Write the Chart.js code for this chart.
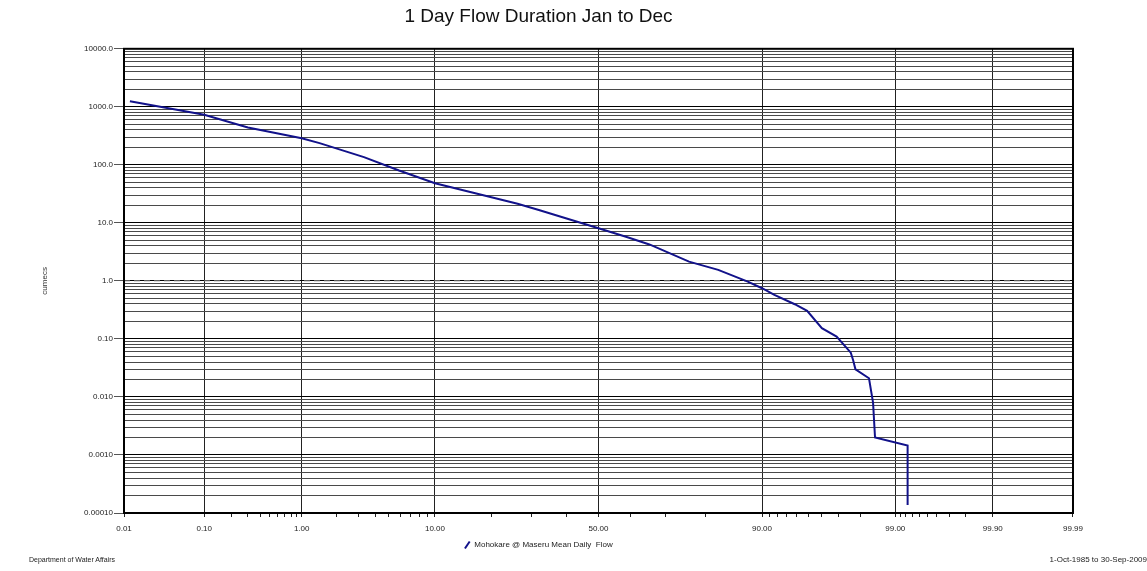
<!DOCTYPE html>
<html>
<head>
<meta charset="utf-8">
<title>1 Day Flow Duration Jan to Dec</title>
<script src="https://cdn.jsdelivr.net/npm/chart.js@4.4.1/dist/chart.umd.min.js"></script>
<style>
  body { margin: 0; background: #fff; }
  #wrap { position: relative; width: 1147px; height: 571px; overflow: hidden; font-family: "Liberation Sans", Arial, sans-serif; }
  #box { position: absolute; left: 0; top: 0; width: 1090px; height: 571px; }
  .foot { position: absolute; top: 556px; font-size: 7px; color: #222; white-space: nowrap; }
</style>
</head>
<body>
<div id="wrap">
  <div id="box"><canvas id="chart"></canvas></div>
  <div class="foot" style="left:29px">Department of Water Affairs</div>
  <div class="foot" style="right:0; font-size:8px; top:555px">1-Oct-1985 to 30-Sep-2009</div>
</div>
<script>
// 超過確率 (%) と流量 (cumecs).
const exceedance = [0.012, 0.10, 0.30, 1.0, 1.44, 3.3, 5.9, 10.0, 11.0, 26.3, 32.0, 50.0, 59.0, 65.5,
  76.1, 82.6, 87.9, 90.0, 91.6, 93.8, 94.9, 96.0, 96.9, 97.6, 97.7, 97.8, 98.3, 98.43, 98.49, 99.23, 99.23];
const flow = [1250, 728, 440, 288, 237, 136, 80, 48.3, 45, 21.4, 16.7, 8.1, 5.67, 4.25,
  2.15, 1.55, 0.97, 0.748, 0.574, 0.396, 0.304, 0.153, 0.110, 0.058, 0.0435, 0.030, 0.021, 0.0080, 0.0020, 0.00145, 0.000137];

// 1.0 の点線.
const refLevel = 1.0;

// X 軸の目盛.
const xMajorTicks = [0.01, 0.1, 1, 10, 50, 90, 99, 99.9, 99.99];
const xTickLabels = ['0.01', '0.10', '1.00', '10.00', '50.00', '90.00', '99.00', '99.90', '99.99'];
const xMinorTicks = [0.2, 0.3, 0.4, 0.5, 0.6, 0.7, 0.8, 0.9, 2, 3, 4, 5, 6, 7, 8, 9, 20, 30, 40, 60, 70, 80,
  91, 92, 93, 94, 95, 96, 97, 98, 99.1, 99.2, 99.3, 99.4, 99.5, 99.6, 99.7, 99.8];

// Y 軸の目盛.
const yDecades = [0.0001, 0.001, 0.01, 0.1, 1, 10, 100, 1000, 10000];
const yTickLabels = ['0.00010', '0.0010', '0.010', '0.10', '1.0', '10.0', '100.0', '1000.0', '10000.0'];
const yMinorSteps = [2, 3, 4, 5, 6, 7, 8, 9];

const FONT = '"Liberation Sans", Arial, sans-serif';

// 正規分布の逆関数 (Acklam).
function probit(p) {
  const a = [-3.969683028665376e+01, 2.209460984245205e+02, -2.759285104469687e+02, 1.383577518672690e+02, -3.066479806614716e+01, 2.506628277459239e+00];
  const b = [-5.447609879822406e+01, 1.615858368580409e+02, -1.556989798598866e+02, 6.680131188771972e+01, -1.328068155288572e+01];
  const c = [-7.784894002430293e-03, -3.223964580411365e-01, -2.400758277161838e+00, -2.549671348283350e+00, 4.374664141464968e+00, 2.938163982698783e+00];
  const d = [7.784695709041462e-03, 3.224671290700398e-01, 2.445134137142996e+00, 3.754408661907416e+00];
  const pl = 0.02425;
  let q, r;
  if (p < pl) {
    q = Math.sqrt(-2 * Math.log(p));
    return (((((c[0]*q+c[1])*q+c[2])*q+c[3])*q+c[4])*q+c[5]) / ((((d[0]*q+d[1])*q+d[2])*q+d[3])*q+1);
  }
  if (p > 1 - pl) {
    q = Math.sqrt(-2 * Math.log(1 - p));
    return -(((((c[0]*q+c[1])*q+c[2])*q+c[3])*q+c[4])*q+c[5]) / ((((d[0]*q+d[1])*q+d[2])*q+d[3])*q+1);
  }
  q = p - 0.5; r = q * q;
  return (((((a[0]*r+a[1])*r+a[2])*r+a[3])*r+a[4])*r+a[5])*q / (((((b[0]*r+b[1])*r+b[2])*r+b[3])*r+b[4])*r+1);
}

function normCdf(z) {
  const t = 1 / (1 + 0.3275911 * Math.abs(z) / Math.SQRT2);
  const y = 1 - (((((1.061405429*t - 1.453152027)*t) + 1.421413741)*t - 0.284496736)*t + 0.254829592)*t * Math.exp(-z*z/2);
  return z >= 0 ? (1 + y) / 2 : (1 - y) / 2;
}

// 確率目盛のスケール.
class ProbabilityScale extends Chart.Scale {
  determineDataLimits() {
    this.min = this.options.min;
    this.max = this.options.max;
  }
  buildTicks() {
    return xMajorTicks.concat(xMinorTicks).sort((a, b) => a - b).map(v => ({ value: v }));
  }
  configure() {
    super.configure();
    this._zmin = probit(this.min / 100);
    this._zmax = probit(this.max / 100);
  }
  getLabelForValue(value) {
    return String(value);
  }
  getPixelForValue(value) {
    return this.getPixelForDecimal((probit(value / 100) - this._zmin) / (this._zmax - this._zmin));
  }
  getPixelForTick(index) {
    return this.getPixelForValue(this.ticks[index].value);
  }
  getValueForPixel(pixel) {
    const z = this._zmin + this.getDecimalForPixel(pixel) * (this._zmax - this._zmin);
    return normCdf(z) * 100;
  }
}
ProbabilityScale.id = 'probability';
ProbabilityScale.defaults = {};
Chart.register(ProbabilityScale);

const isXMajor = v => xMajorTicks.some(m => Math.abs(m - v) < 1e-9);
const isYMajor = v => yDecades.some(m => Math.abs(m - v) < m * 1e-6);

// 枠線.
const framePlugin = {
  id: 'frame',
  afterDraw(chart) {
    const { ctx, chartArea: a } = chart;
    ctx.save();
    ctx.strokeStyle = '#000';
    ctx.lineWidth = 2;
    ctx.strokeRect(a.left, a.top, a.right - a.left, a.bottom - a.top);
    ctx.restore();
  }
};

new Chart(document.getElementById('chart'), {
  type: 'line',
  data: {
    datasets: [
      {
        label: 'Mohokare @ Maseru Mean Daily  Flow',
        data: exceedance.map((p, i) => ({ x: p, y: flow[i] })),
        borderColor: '#12128a',
        borderWidth: 2,
        pointRadius: 0,
        pointStyle: 'line',
        pointRotation: -56,
        tension: 0,
      },
      {
        label: 'ref',
        data: [{ x: 0.01, y: refLevel }, { x: 99.99, y: refLevel }],
        borderColor: '#9a9a9a',
        borderWidth: 1,
        borderDash: [6, 4],
        pointRadius: 0,
      },
    ],
  },
  options: {
    responsive: true,
    maintainAspectRatio: false,
    animation: false,
    events: [],
    layout: { padding: { left: 0, right: 13, top: 0, bottom: 12 } },
    plugins: {
      title: {
        display: true,
        text: '1 Day Flow Duration Jan to Dec',
        color: '#111',
        font: { family: FONT, size: 19, weight: 'normal' },
        padding: { top: 5, bottom: 21 },
      },
      legend: {
        position: 'bottom',
        labels: {
          filter: item => item.datasetIndex === 0,
          usePointStyle: true,
          boxWidth: 6,
          boxHeight: 6,
          color: '#222',
          font: { family: FONT, size: 8 },
          padding: 10,
        },
      },
      tooltip: { enabled: false },
    },
    scales: {
      x: {
        type: 'probability',
        min: 0.01,
        max: 99.99,
        border: { display: false },
        grid: {
          color: c => isXMajor(c.tick.value) ? '#222' : 'rgba(0,0,0,0)',
          tickColor: '#222',
          tickLength: 4,
          lineWidth: 1,
        },
        ticks: {
          autoSkip: false,
          maxRotation: 0,
          padding: 7,
          color: '#222',
          font: { family: FONT, size: 8 },
          callback: v => {
            const i = xMajorTicks.findIndex(m => Math.abs(m - v) < 1e-9);
            return i >= 0 ? xTickLabels[i] : '';
          },
        },
        afterFit: scale => { scale.height = 18; },
      },
      y: {
        type: 'logarithmic',
        min: 0.0001,
        max: 10000,
        border: { display: false },
        grid: {
          color: c => isYMajor(c.tick.value) ? '#000' : '#4a4a4a',
          tickColor: c => isYMajor(c.tick.value) ? '#555' : 'rgba(0,0,0,0)',
          tickLength: 10,
          lineWidth: 1,
        },
        ticks: {
          autoSkip: false,
          padding: 1,
          color: '#222',
          font: { family: FONT, size: 8 },
          callback: v => {
            const i = yDecades.findIndex(m => Math.abs(m - v) < m * 1e-6);
            return i >= 0 ? yTickLabels[i] : '';
          },
        },
        afterBuildTicks: scale => {
          const ticks = [];
          yDecades.forEach((d, i) => {
            ticks.push({ value: d, major: true });
            if (i < yDecades.length - 1) {
              yMinorSteps.forEach(s => ticks.push({ value: d * s }));
            }
          });
          scale.ticks = ticks;
        },
        title: {
          display: true,
          text: 'cumecs',
          color: '#333',
          font: { family: FONT, size: 8 },
          padding: { top: 40, bottom: 0 },
        },
        afterFit: scale => { scale.width = 124; },
      },
    },
  },
  plugins: [framePlugin],
});
</script>
</body>
</html>
